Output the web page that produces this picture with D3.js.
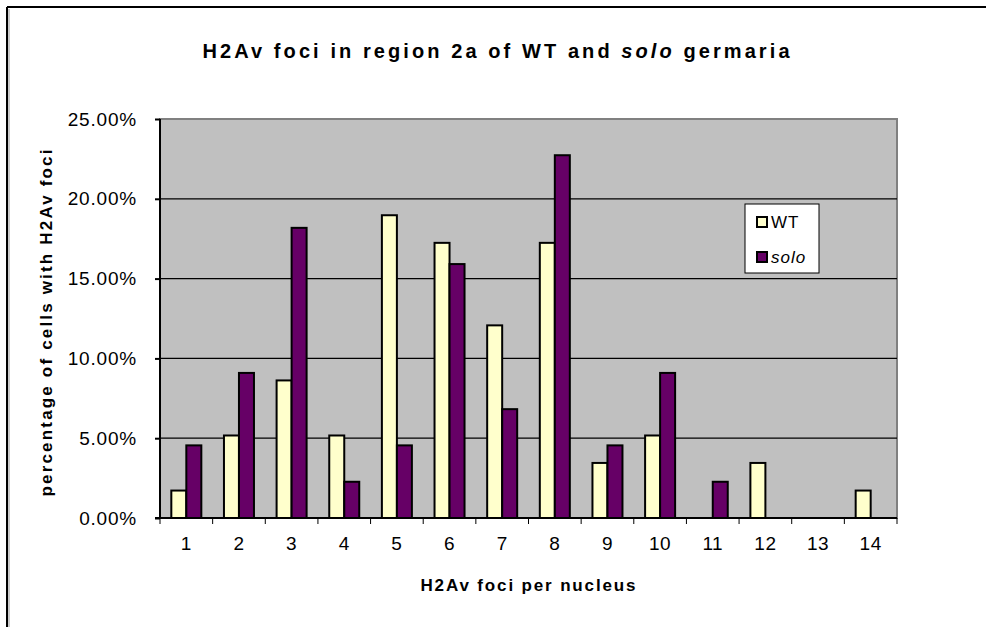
<!DOCTYPE html>
<html lang='en'>
<head>
  <meta charset='UTF-8'>
  <title>H2Av foci</title>
  <style>
    body { margin: 0; background: #fff; }
    text { font-family: 'Liberation Sans', Arial, sans-serif; }
  </style>
</head>
<body>
  <script src='https://cdn.jsdelivr.net/npm/d3@7/dist/d3.min.js'></script>
  <script>
// 数据
const categories = ['1','2','3','4','5','6','7','8','9','10','11','12','13','14'];
const seriesNames = ['WT', 'solo'];
const wtValues   = [1.72, 5.17, 8.62, 5.17, 18.97, 17.24, 12.07, 17.24, 3.45, 5.17, 0, 3.45, 0, 1.72];
const soloValues = [4.55, 9.09, 18.18, 2.27, 4.55, 15.91, 6.82, 22.73, 4.55, 9.09, 2.27, 0, 0, 0];
const yTicks = [0, 5, 10, 15, 20, 25];
const colors = ['#FFFFCC', '#660066'];

const width = 986;
const height = 627;
const margin = {left: 160, right: 89, top: 119, bottom: 109};

const svg = d3.select('body').append('svg')
    .attr('width', width)
    .attr('height', height);

// 外框（只看得到左边和上边）
svg.append('line').attr('x1', 7).attr('y1', 7).attr('x2', width).attr('y2', 7)
    .attr('stroke', '#000').attr('stroke-width', 2);
svg.append('line').attr('x1', 7).attr('y1', 7).attr('x2', 7).attr('y2', height)
    .attr('stroke', '#000').attr('stroke-width', 2);
svg.append('line').attr('x1', 9).attr('y1', 9).attr('x2', 9).attr('y2', height)
    .attr('stroke', '#999').attr('stroke-width', 1);

const x0 = d3.scaleBand()
    .domain(categories)
    .range([margin.left, width - margin.right]);

const gap = x0.bandwidth() * 0.43;
const x1 = d3.scaleBand()
    .domain(seriesNames)
    .range([gap / 2, x0.bandwidth() - gap / 2]);

const y = d3.scaleLinear()
    .domain([0, 25])
    .range([height - margin.bottom, margin.top]);

// 绘图区背景
svg.append('rect')
    .attr('x', margin.left).attr('y', margin.top)
    .attr('width', width - margin.left - margin.right)
    .attr('height', height - margin.top - margin.bottom)
    .attr('fill', '#C0C0C0')
    .attr('stroke', '#808080').attr('stroke-width', 2);

// 网格线
svg.append('g')
    .selectAll('line')
    .data(yTicks.filter(d => d > 0 && d < 25))
    .enter().append('line')
    .attr('x1', margin.left).attr('x2', width - margin.right)
    .attr('y1', d => y(d)).attr('y2', d => y(d))
    .attr('stroke', '#000').attr('stroke-width', 1.3);

// 柱子
const rows = categories.map((c, i) => ({c: c, vals: [wtValues[i], soloValues[i]]}));
const g = svg.append('g').selectAll('g')
    .data(rows)
    .enter().append('g')
    .attr('transform', d => 'translate(' + x0(d.c) + ',0)');

g.selectAll('rect')
    .data(d => d.vals.map((v, i) => ({name: seriesNames[i], v: v, i: i})).filter(d => d.v > 0))
    .enter().append('rect')
    .attr('x', d => x1(d.name))
    .attr('width', x1.bandwidth())
    .attr('y', d => y(d.v))
    .attr('height', d => y(0) - y(d.v))
    .attr('fill', d => colors[d.i])
    .attr('stroke', '#000')
    .attr('stroke-width', 2);

// Y轴
const yAxis = svg.append('g')
    .attr('transform', 'translate(' + margin.left + ',0)')
    .call(d3.axisLeft(y).tickValues(yTicks).tickSize(5).tickPadding(18)
        .tickFormat(d => d.toFixed(2) + '%'));
yAxis.select('.domain').attr('stroke-width', 2).attr('d', 'M0,' + (margin.top) + 'V' + (height - margin.bottom));
yAxis.selectAll('.tick line').attr('stroke-width', 2);
yAxis.selectAll('text')
    .attr('font-size', 19)
    .attr('letter-spacing', 0.8)
    .attr('fill', '#000');

// X轴
const xAxis = svg.append('g')
    .attr('transform', 'translate(0,' + (height - margin.bottom) + ')');
xAxis.append('line')
    .attr('x1', margin.left - 5).attr('x2', width - margin.right)
    .attr('stroke', '#000').attr('stroke-width', 2);
xAxis.selectAll('.tk')
    .data(categories.concat(['end']))
    .enter().append('line')
    .attr('class', 'tk')
    .attr('x1', d => d === 'end' ? width - margin.right : x0(d))
    .attr('x2', d => d === 'end' ? width - margin.right : x0(d))
    .attr('y1', 0).attr('y2', 6)
    .attr('stroke', '#000').attr('stroke-width', 1);
xAxis.selectAll('.lbl')
    .data(categories)
    .enter().append('text')
    .attr('class', 'lbl')
    .attr('x', d => x0(d) + x0.bandwidth() / 2)
    .attr('y', 32)
    .attr('text-anchor', 'middle')
    .attr('font-size', 19)
    .attr('letter-spacing', 0.5)
    .text(d => d);

// 标题
const title = svg.append('text')
    .attr('x', 496).attr('y', 58)
    .attr('text-anchor', 'middle')
    .attr('font-size', 20)
    .attr('font-weight', 'bold')
    .attr('textLength', 587)
    .attr('lengthAdjust', 'spacing');
title.append('tspan').text('H2Av foci in region 2a of WT and ');
title.append('tspan').attr('font-style', 'italic').text('solo');
title.append('tspan').text(' germaria');

// 轴标题
svg.append('text')
    .attr('x', 528).attr('y', 591)
    .attr('text-anchor', 'middle')
    .attr('font-size', 17).attr('font-weight', 'bold')
    .attr('textLength', 215)
    .attr('lengthAdjust', 'spacing')
    .text('H2Av foci per nucleus');

svg.append('text')
    .attr('transform', 'translate(52,323) rotate(-90)')
    .attr('text-anchor', 'middle')
    .attr('font-size', 17).attr('font-weight', 'bold')
    .attr('textLength', 347)
    .attr('lengthAdjust', 'spacing')
    .text('percentage of cells with H2Av foci');

// 图例
const legend = svg.append('g').attr('transform', 'translate(745,204)');
legend.append('rect')
    .attr('width', 74).attr('height', 69)
    .attr('fill', '#fff').attr('stroke', '#000').attr('stroke-width', 1);
const li = legend.selectAll('.li')
    .data(seriesNames)
    .enter().append('g')
    .attr('class', 'li')
    .attr('transform', (d, i) => 'translate(12,' + (13 + i * 35) + ')');
li.append('rect')
    .attr('width', 10).attr('height', 10)
    .attr('fill', (d, i) => colors[i])
    .attr('stroke', '#000').attr('stroke-width', 2);
li.append('text')
    .attr('x', 14).attr('y', 11)
    .attr('font-size', 17)
    .attr('letter-spacing', 1)
    .attr('font-style', d => d === 'solo' ? 'italic' : 'normal')
    .text(d => d);
  </script>
</body>
</html>
